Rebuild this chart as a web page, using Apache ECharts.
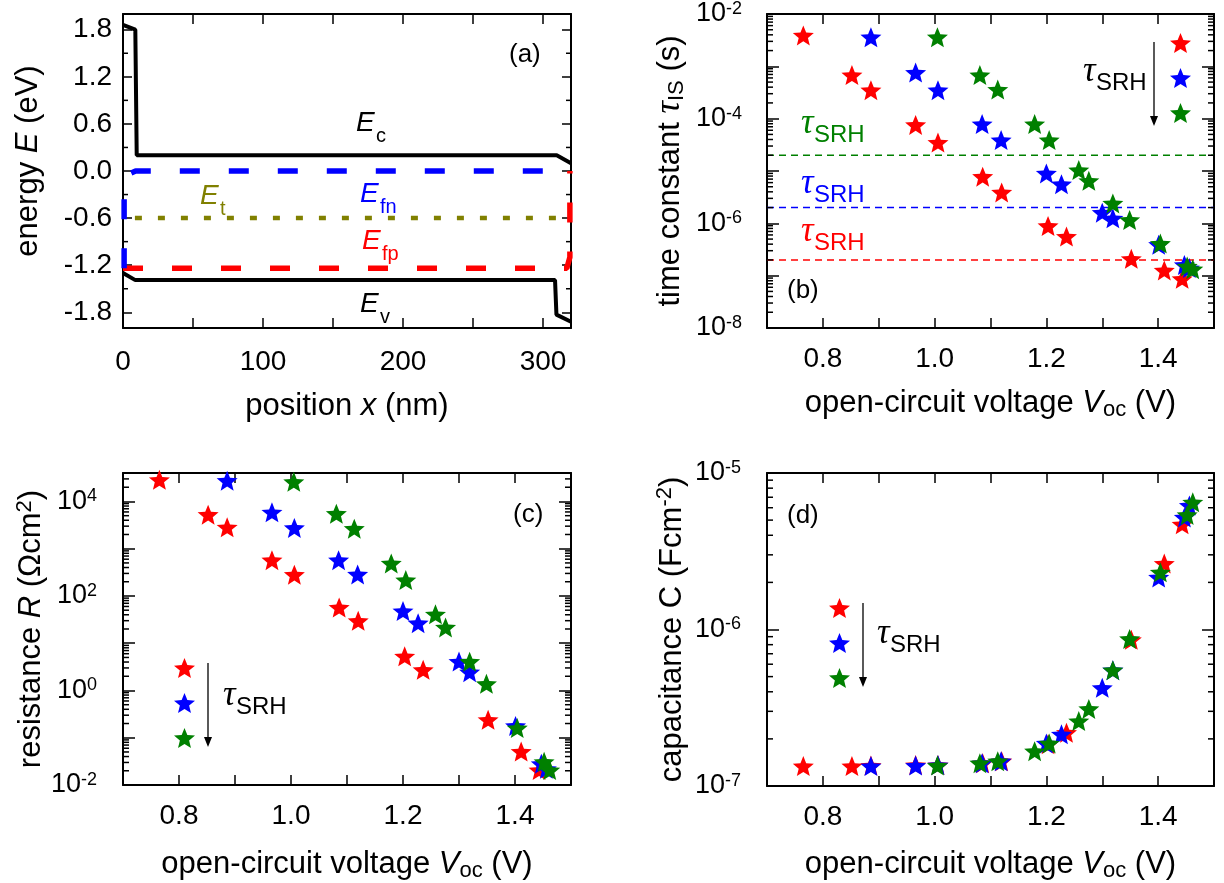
<!DOCTYPE html>
<html>
<head>
<meta charset="utf-8">
<script src="https://cdn.jsdelivr.net/npm/echarts@6/dist/echarts.min.js"></script>
<style>
html, body { margin: 0; padding: 0; background: #fff; }
#chart { width: 1224px; height: 883px; }
</style>
</head>
<body>
<div id="chart"></div>
<script>
// (a) band diagram, x in nm, E in eV
const ecX = [0, 8.8, 9.8, 309.8, 320]
const ecY = [1.86, 1.8, 0.2, 0.2, 0.1]
const evX = [0, 8.8, 308.6, 309.6, 320]
const evY = [-1.3, -1.39, -1.39, -1.83, -1.92]
const efnX = [0.8, 0.8, 1.5, 4, 9, 320]
const efnY = [-1.24, -0.35, -0.12, -0.04, 0, 0]
const efpX = [0, 317, 319.2, 319.2]
const efpY = [-1.24, -1.24, -1.1, 0]
const etX = [8.5, 311]
const etY = [-0.6, -0.6]
const energyTicks = [-1.8, -1.2, -0.6, 0, 0.6, 1.2, 1.8]
const energyMinor = [-1.5, -0.9, -0.3, 0.3, 0.9, 1.5]

// (b)-(d) three trap lifetimes, red > blue > green
const vocRed = [0.765, 0.852, 0.886, 0.966, 1.006, 1.086, 1.12, 1.203, 1.236, 1.352, 1.411, 1.443]
const vocBlue = [0.886, 0.966, 1.006, 1.085, 1.119, 1.2, 1.227, 1.3, 1.319, 1.401, 1.447, 1.456]
const vocGreen = [1.005, 1.081, 1.113, 1.179, 1.205, 1.258, 1.276, 1.319, 1.349, 1.404, 1.452, 1.462]

const tauRed = [3.9e-3, 6.8e-4, 3.5e-4, 7.6e-5, 3.5e-5, 7.8e-6, 3.9e-6, 8.9e-7, 5.6e-7, 2.1e-7, 1.26e-7, 8.7e-8]
const tauBlue = [3.6e-3, 7.6e-4, 3.5e-4, 7.9e-5, 3.9e-5, 9e-6, 5.6e-6, 1.6e-6, 1.25e-6, 3.9e-7, 1.6e-7, 1.4e-7]
const tauGreen = [3.6e-3, 6.8e-4, 3.6e-4, 7.9e-5, 3.9e-5, 1.04e-5, 6.5e-6, 2.4e-6, 1.16e-6, 4.1e-7, 1.5e-7, 1.33e-7]
const tauSRH = [2e-7, 2e-6, 2e-5]

const resRed = [2.87e4, 5.25e3, 2.84e3, 573, 282, 57, 29.8, 5.3, 2.73, 0.24, 0.051, 0.0207]
const resBlue = [2.75e4, 5.9e3, 2.75e3, 573, 286, 48, 26.6, 4.1, 2.44, 0.178, 0.028, 0.022]
const resGreen = [2.6e4, 5.5e3, 2.66e3, 488, 217, 41, 21.6, 4.07, 1.38, 0.16, 0.031, 0.0207]

const capRed = [1.34e-7, 1.34e-7, 1.35e-7, 1.36e-7, 1.36e-7, 1.4e-7, 1.44e-7, 1.85e-7, 2.19e-7, 8.6e-7, 2.64e-6, 4.7e-6]
const capBlue = [1.34e-7, 1.35e-7, 1.36e-7, 1.4e-7, 1.44e-7, 1.87e-7, 2.14e-7, 4.24e-7, 5.5e-7, 2.15e-6, 5.2e-6, 6.2e-6]
const capGreen = [1.35e-7, 1.4e-7, 1.44e-7, 1.67e-7, 1.87e-7, 2.6e-7, 3.11e-7, 5.5e-7, 8.7e-7, 2.32e-6, 5.4e-6, 6.5e-6]

const RED = '#ff0000'
const BLUE = '#0000ff'
const GREEN = '#008000'
const OLIVE = '#808000'
const FONT = '"Liberation Sans", Arial, sans-serif'
const SERIF = '"Liberation Serif", "Times New Roman", serif'
const STAR = 'path://M50,0L62.93,32.2L97.55,34.55L70.92,56.8L79.39,90.45L50,72L20.61,90.45L29.08,56.8L2.45,34.55L37.07,32.2Z'

const chart = echarts.init(document.getElementById('chart'))

const richTitle = {
  n: { fontSize: 31, fontFamily: FONT, color: '#000', lineHeight: 36 },
  i: { fontSize: 31, fontFamily: FONT, fontStyle: 'italic', color: '#000', lineHeight: 36 },
  t: { fontSize: 35, fontFamily: SERIF, fontStyle: 'italic', color: '#000', lineHeight: 36 },
  sub: { fontSize: 22, fontFamily: FONT, color: '#000', verticalAlign: 'bottom', lineHeight: 16 },
  sup: { fontSize: 22, fontFamily: FONT, color: '#000', verticalAlign: 'top', lineHeight: 18 }
}
const richTick = {
  b: { fontSize: 27, fontFamily: FONT, color: '#000', lineHeight: 28 },
  s: { fontSize: 18, fontFamily: FONT, color: '#000', verticalAlign: 'top', lineHeight: 12 }
}

const grids = [
  { left: 123, top: 14, width: 448, height: 314 },
  { left: 767, top: 14, width: 447, height: 314 },
  { left: 123, top: 473, width: 448, height: 314 },
  { left: 767, top: 473, width: 447, height: 314 }
]

const frameLine = { show: true, onZero: false, lineStyle: { color: '#000', width: 2 } }

function xAxes (g, min, max, interval, fmt, name, margin, gap) {
  const base = {
    gridIndex: g, type: 'value', min: min, max: max, interval: interval,
    axisLine: frameLine,
    axisTick: { show: true, inside: true, length: 10, lineStyle: { color: '#000', width: 1.5 } },
    splitLine: { show: false }
  }
  return [
    Object.assign({}, base, {
      position: 'bottom',
      axisLabel: { formatter: fmt, margin: margin, color: '#000', fontSize: 28, fontFamily: FONT },
      name: name, nameLocation: 'middle', nameGap: gap, nameTextStyle: { rich: richTitle }
    }),
    Object.assign({}, base, { position: 'top', axisLabel: { show: false } })
  ]
}

function yAxes (g, min, max, interval, fmt, name, margin, gap, tickLen, custom, namePad) {
  const tick = { show: true, inside: true, length: tickLen, lineStyle: { color: '#000', width: 1.5 } }
  const label = { formatter: fmt, margin: margin, color: '#000', fontSize: 28, fontFamily: FONT, rich: richTick }
  if (custom) {
    tick.customValues = custom
    label.customValues = custom
  }
  const base = {
    gridIndex: g, type: 'value', min: min, max: max, interval: interval,
    axisLine: frameLine, axisTick: tick, splitLine: { show: false }
  }
  return [
    Object.assign({}, base, {
      position: 'left', axisLabel: label,
      name: name, nameLocation: 'middle', nameGap: gap,
      nameTextStyle: { rich: richTitle, padding: namePad || 0 }
    }),
    Object.assign({}, base, { position: 'right', axisLabel: { show: false } })
  ]
}

const isInt = v => Math.abs(v - Math.round(v)) < 1e-6
const vocFmt = v => {
  const k = Math.round(v * 10)
  return (isInt(v * 10) && k % 2 === 0 && k >= 8 && k <= 14) ? (k / 10).toFixed(1) : ''
}
const nmFmt = v => (v % 100 === 0 && v < 320) ? String(v) : ''
const eFmt = v => (Math.abs(v) < 1.95 && isInt((v + 1.8) / 0.6)) ? (Math.abs(v) < 1e-6 ? 0 : v).toFixed(1) : ''
const powFmt = step => v => (isInt(v) && Math.round(v) % step === 0) ? '{b|10}{s|' + Math.round(v) + '}' : ''

function logMinor (lo, hi) {
  const out = []
  for (let d = Math.floor(lo); d < hi; d++) {
    for (let k = 2; k <= 9; k++) {
      const v = d + Math.log10(k)
      if (v > lo + 1e-6 && v < hi - 1e-6) out.push(v)
    }
  }
  return out
}

// short inward ticks on the left and right frame
function minorTicks (g, xMin, values, len) {
  return {
    type: 'custom', xAxisIndex: g * 2, yAxisIndex: g * 2, silent: true, z: 3,
    data: values.map(v => [xMin, v]),
    renderItem: function (params, api) {
      const cs = params.coordSys
      const y = api.coord([api.value(0), api.value(1)])[1]
      const st = { stroke: '#000', lineWidth: 1.5 }
      return {
        type: 'group',
        children: [
          { type: 'line', shape: { x1: cs.x, y1: y, x2: cs.x + len, y2: y }, style: st },
          { type: 'line', shape: { x1: cs.x + cs.width - len, y1: y, x2: cs.x + cs.width, y2: y }, style: st }
        ]
      }
    }
  }
}

const pairs = (xs, ys, f) => xs.map((x, i) => [x, f ? f(ys[i]) : ys[i]])
const lg = v => Math.log10(v)

function bandLine (xs, ys, color, width, type) {
  return {
    type: 'line', xAxisIndex: 0, yAxisIndex: 0, data: pairs(xs, ys),
    showSymbol: false, symbol: 'none', silent: true, z: 2,
    lineStyle: { color: color, width: width, type: type, cap: 'butt' }
  }
}

function stars (name, g, voc, vals, color) {
  return {
    name: name, type: 'scatter', xAxisIndex: g * 2, yAxisIndex: g * 2,
    data: pairs(voc, vals, lg), symbol: STAR, symbolSize: [21, 20],
    itemStyle: { color: color, opacity: 1 }, z: 4
  }
}

function srhLine (val, color) {
  return {
    type: 'line', xAxisIndex: 2, yAxisIndex: 2, data: [[0.7, lg(val)], [1.5, lg(val)]],
    showSymbol: false, symbol: 'none', silent: true, z: 2,
    lineStyle: { color: color, width: 1.5, type: [7, 5] }
  }
}

const cMax = Math.log10(4e4)

function legendAt (names, left, top) {
  return {
    data: names, orient: 'vertical', left: left, top: top, padding: 0,
    itemWidth: 21, itemHeight: 20, itemGap: 15, icon: STAR,
    formatter: () => '', selectedMode: false, textStyle: { fontSize: 1 }
  }
}

function txt (x, y, text, font, color) {
  return {
    type: 'text', x: x, y: y, silent: true, z: 10,
    style: { text: text, font: font, fill: color || '#000', textAlign: 'left', align: 'left', textVerticalAlign: 'middle', verticalAlign: 'middle' }
  }
}

function arrow (x, y1, y2) {
  return {
    type: 'group', silent: true, z: 10,
    children: [
      { type: 'line', shape: { x1: x, y1: y1, x2: x, y2: y2 - 6 }, style: { stroke: '#000', lineWidth: 1.3 } },
      { type: 'polygon', shape: { points: [[x - 4, y2 - 10], [x + 4, y2 - 10], [x, y2]] }, style: { fill: '#000' } }
    ]
  }
}

const tauLabel = (x, base, color) => [
  txt(x, base - 11, 'τ', 'italic 35px ' + SERIF, color),
  txt(x + 13, base + 0.5, 'SRH', '24px ' + FONT, color)
]

const bandLabel = (x, y, sub, color) => [
  txt(x, y, 'E', 'italic 28px ' + FONT, color),
  txt(x + 20, y + 13, sub, '20px ' + FONT, color)
]

const vocName = '{n|open-circuit voltage }{i|V}{sub|oc}{n| (V)}'

const option = {
  animation: false,
  backgroundColor: '#fff',
  grid: grids,
  xAxis: [].concat(
    xAxes(0, 0, 320, 50, nmFmt, '{n|position }{i|x}{n| (nm)}', 20, 60),
    xAxes(1, 0.7, 1.5, 0.1, vocFmt, vocName, 17, 57),
    xAxes(2, 0.7, 1.5, 0.1, vocFmt, vocName, 17, 61),
    xAxes(3, 0.7, 1.5, 0.1, vocFmt, vocName, 17, 60)
  ),
  yAxis: [].concat(
    yAxes(0, -2, 2, 0.1, eFmt, '{n|energy }{i|E}{n| (eV)}', 11, 77, 9, energyTicks, [0, 0, 0, 20]),
    yAxes(1, -8, -2, 1, powFmt(2), '{n|time constant }{t|τ}{sub|IS}{n| (s)}', 25, 79, 12),
    yAxes(2, -2, cMax, 1, powFmt(2), '{n|resistance }{i|R}{n| (Ωcm}{sup|2}{n|)}', 26, 71, 12),
    yAxes(3, -7, -5, 1, powFmt(1), '{n|capacitance C (Fcm}{sup|-2}{n|)}', 26, 77, 12)
  ),
  legend: [
    legendAt(['b-red', 'b-blue', 'b-green'], 1170, 33),
    legendAt(['c-red', 'c-blue', 'c-green'], 174, 658),
    legendAt(['d-red', 'd-blue', 'd-green'], 829, 598)
  ],
  series: [
    bandLine(etX, etY, OLIVE, 4.5, [7, 16]),
    bandLine(efpX, efpY, RED, 5.5, [20, 29]),
    bandLine(efnX, efnY, BLUE, 5.5, [20, 29]),
    bandLine(ecX, ecY, '#000', 4, 'solid'),
    bandLine(evX, evY, '#000', 4, 'solid'),
    minorTicks(0, 0, energyMinor, 5),

    srhLine(tauSRH[0], RED),
    srhLine(tauSRH[1], BLUE),
    srhLine(tauSRH[2], GREEN),
    stars('b-red', 1, vocRed, tauRed, RED),
    stars('b-blue', 1, vocBlue, tauBlue, BLUE),
    stars('b-green', 1, vocGreen, tauGreen, GREEN),
    minorTicks(1, 0.7, logMinor(-8, -2), 6),

    stars('c-red', 2, vocRed, resRed, RED),
    stars('c-blue', 2, vocBlue, resBlue, BLUE),
    stars('c-green', 2, vocGreen, resGreen, GREEN),
    minorTicks(2, 0.7, logMinor(-2, cMax), 6),

    stars('d-red', 3, vocRed, capRed, RED),
    stars('d-blue', 3, vocBlue, capBlue, BLUE),
    stars('d-green', 3, vocGreen, capGreen, GREEN),
    minorTicks(3, 0.7, logMinor(-7, -5), 6)
  ],
  graphic: {
    elements: [].concat(
      bandLabel(356, 123, 'c', '#000'),
      bandLabel(200, 196, 't', OLIVE),
      bandLabel(360, 194, 'fn', BLUE),
      bandLabel(362, 241, 'fp', RED),
      bandLabel(360, 304, 'v', '#000'),
      [
        txt(509, 55, '(a)', '26px ' + FONT),
        txt(787, 291, '(b)', '26px ' + FONT),
        txt(513, 515, '(c)', '26px ' + FONT),
        txt(787, 516, '(d)', '26px ' + FONT),
        arrow(1154, 42, 126),
        arrow(208, 663, 747),
        arrow(863, 603, 687)
      ],
      tauLabel(801, 135, GREEN),
      tauLabel(801, 195, BLUE),
      tauLabel(801, 243, RED),
      tauLabel(1083, 83, '#000'),
      tauLabel(223, 707, '#000'),
      tauLabel(877, 645, '#000')
    )
  }
}

chart.setOption(option)
</script>
</body>
</html>
